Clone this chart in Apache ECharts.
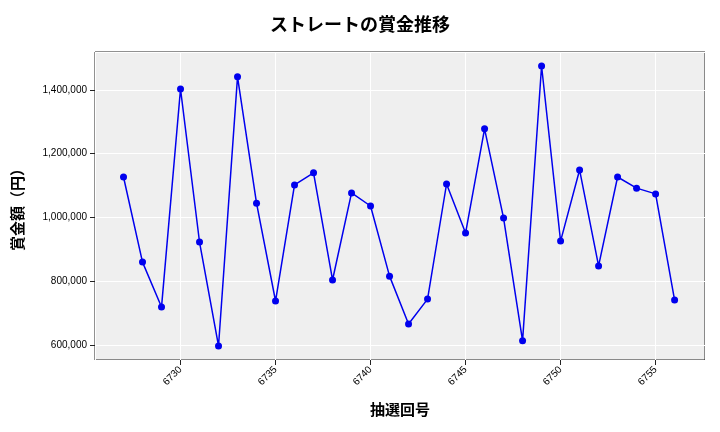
<!DOCTYPE html><html><head><meta charset="utf-8"><script src="https://cdn.jsdelivr.net/npm/echarts@6/dist/echarts.min.js"></script></head><body style="margin:0"><div id="c" style="width:720px;height:432px"></div><script>
const draws=[6727,6728,6729,6730,6731,6732,6733,6734,6735,6736,6737,6738,6739,6740,6741,6742,6743,6744,6745,6746,6747,6748,6749,6750,6751,6752,6753,6754,6755,6756];
const prizes=[1127000,860000,719000,1403000,923000,597000,1441000,1045000,738000,1102000,1140000,804000,1077000,1036000,816000,666000,744000,1105000,951000,1278000,998000,613000,1475000,926000,1149000,848000,1127000,1092000,1074000,741000];
const font='"Noto Sans CJK JP","DejaVu Sans",sans-serif';
const ch=echarts.init(document.getElementById('c'));
ch.setOption({animation:false,
title:{text:'ストレートの賞金推移',left:'center',top:10,textStyle:{fontFamily:font,fontSize:18,fontWeight:'bold',color:'#000'}},
grid:{left:95,right:15,top:52,bottom:72,show:true,backgroundColor:'#efefef',borderColor:'#222',borderWidth:1},
xAxis:{type:'value',min:6725.5,max:6757.6,splitNumber:6,name:'抽選回号',nameLocation:'middle',nameGap:42,nameTextStyle:{fontFamily:font,fontSize:15,fontWeight:'bold',color:'#000'},
axisLine:{show:false},axisTick:{show:true,lineStyle:{color:'#222'}},axisLabel:{rotate:45,fontSize:10,color:'#000',showMinLabel:false,showMaxLabel:false,formatter:v=>String(v)},splitLine:{lineStyle:{color:'#fff'}}},
yAxis:{type:'value',min:553000,max:1519000,splitNumber:5,name:'賞金額（円）',nameLocation:'middle',nameGap:70,nameTextStyle:{fontFamily:font,fontSize:15,fontWeight:'bold',color:'#000'},
axisLine:{show:false},axisTick:{show:true,lineStyle:{color:'#222'}},axisLabel:{fontSize:10,color:'#000',showMinLabel:false,showMaxLabel:false,formatter:v=>v.toLocaleString('en-US')},splitLine:{lineStyle:{color:'#fff'}}},
series:[{type:'line',data:draws.map((d,i)=>[d,prizes[i]]),color:'#0000ee',lineStyle:{width:1.5,color:'#0000ee'},symbol:'circle',symbolSize:7,itemStyle:{color:'#0000ee'}}]});
</script></body></html>
